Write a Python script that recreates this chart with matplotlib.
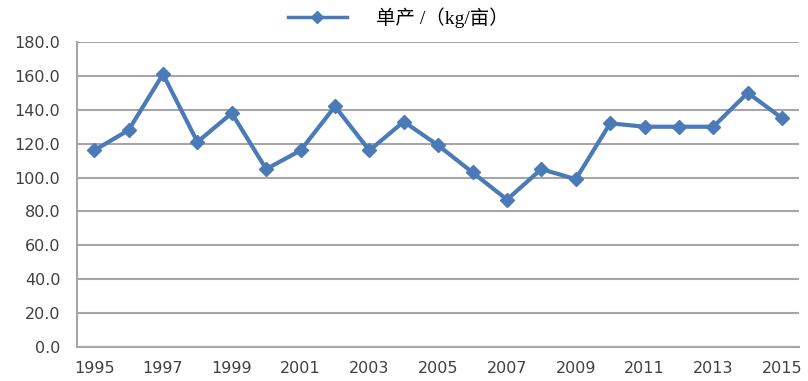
import matplotlib.pyplot as plt

plt.rcParams['font.family'] = ['Noto Sans CJK SC', 'DejaVu Sans']

years = [str(y) for y in range(1995, 2016)]
yield_per_mu = [116, 128, 161, 121, 138, 105, 116, 142, 116, 133, 119,
                103, 87, 105, 99, 132, 130, 130, 130, 150, 135]

fig = plt.figure(figsize=(8.08, 3.81), dpi=100)
ax = fig.add_axes([0.0953, 0.0892, 0.894, 0.8006])

x = list(range(len(years)))
ax.plot(x, yield_per_mu, color='#4a7ab8', lw=3, marker='D', ms=7,
        label='单产 /（kg/亩）')

tick_font = {'family': 'DejaVu Sans', 'size': 11.5, 'color': '#404040'}
ax.set_xlim(-0.5, len(years) - 0.5)
ax.set_ylim(0, 180)
ax.set_yticks(range(0, 181, 20))
ax.set_yticklabels([f'{v:.1f}' for v in range(0, 181, 20)], fontdict=tick_font)
ax.set_xticks(x[::2])
ax.set_xticklabels(years[::2], fontdict=tick_font)

ax.grid(axis='y', color='#a6a6a6', lw=1.5)
ax.set_axisbelow(True)
for s in ['top', 'right']:
    ax.spines[s].set_visible(False)
for s in ['left', 'bottom']:
    ax.spines[s].set_color('#a6a6a6')
    ax.spines[s].set_linewidth(1.5)
ax.tick_params(length=0)
ax.tick_params(axis='x', pad=10)
ax.tick_params(axis='y', pad=12)

leg = ax.legend(loc='lower center', bbox_to_anchor=(0.445, 0.99), frameon=False,
                prop={'family': ['Liberation Serif', 'Noto Sans CJK SC'], 'size': 14},
                handlelength=3, handletextpad=1.5)
leg.get_lines()[0].set_linewidth(2.5)
leg.get_lines()[0].set_markersize(6)

fig.savefig('out.png', dpi=100)
